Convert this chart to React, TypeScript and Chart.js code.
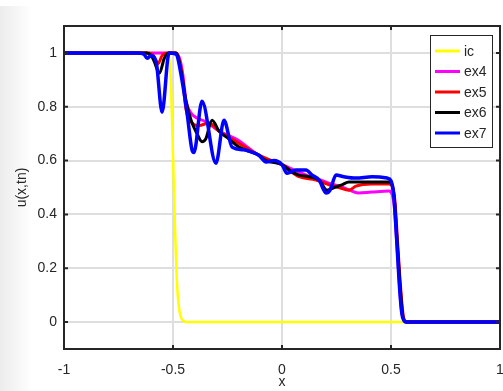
import React, { useEffect, useRef } from "react";
import { Chart, registerables } from "chart.js";
Chart.register(...registerables);

const xTicks = [-1, -0.5, 0, 0.5, 1];
const yTicks = [0, 0.2, 0.4, 0.6, 0.8, 1];
const xTickLabels = ["-1", "-0.5", "0", "0.5", "1"];
const yTickLabels = ["0", "0.2", "0.4", "0.6", "0.8", "1"];
const seriesLabels = ["ic", "ex4", "ex5", "ex6", "ex7"];
const seriesColors = ["#ffff00", "#ff00ff", "#ff0000", "#000000", "#0000ff"];

const icX = [-1, -0.53, -0.518, -0.51, -0.5, -0.49, -0.48, -0.47, -0.46, -0.45, -0.44, 1];
const icY = [1, 1, 0.98, 0.9, 0.62, 0.33, 0.12, 0.04, 0.012, 0.003, 0, 0];

const ex4X = [-1, -0.6, -0.52, -0.49, -0.47, -0.455, -0.44, -0.42, -0.395, -0.35, -0.29, -0.21, -0.106, 0.0, 0.1, 0.17, 0.22, 0.28, 0.31, 0.35, 0.41, 0.49, 0.505, 0.515, 0.53, 0.545, 0.555, 0.57, 1];
const ex4Y = [1, 1, 1, 1, 0.98, 0.92, 0.82, 0.78, 0.76, 0.745, 0.71, 0.68, 0.62, 0.585, 0.55, 0.53, 0.515, 0.5, 0.49, 0.48, 0.483, 0.487, 0.475, 0.43, 0.25, 0.07, 0.015, 0, 0];

const ex5X = [-1, -0.62, -0.59, -0.569, -0.55, -0.52, -0.486, -0.46, -0.44, -0.413, -0.381, -0.335, -0.289, -0.229, -0.106, -0.05, 0.0, 0.03, 0.078, 0.156, 0.216, 0.261, 0.307, 0.339, 0.413, 0.49, 0.505, 0.518, 0.53, 0.545, 0.557, 0.573, 1];
const ex5Y = [1, 1, 0.99, 0.96, 0.99, 1, 1, 0.93, 0.79, 0.74, 0.73, 0.74, 0.71, 0.68, 0.62, 0.6, 0.585, 0.565, 0.54, 0.528, 0.51, 0.5, 0.49, 0.505, 0.513, 0.513, 0.505, 0.45, 0.3, 0.12, 0.02, 0, 0];

const ex6X = [-1, -0.62, -0.6, -0.587, -0.562, -0.54, -0.52, -0.486, -0.46, -0.44, -0.417, -0.39, -0.367, -0.35, -0.321, -0.289, -0.243, -0.197, -0.106, -0.073, 0.0, 0.046, 0.078, 0.124, 0.17, 0.206, 0.239, 0.275, 0.307, 0.4, 0.49, 0.505, 0.516, 0.53, 0.545, 0.555, 0.57, 1];
const ex6Y = [1, 1, 0.99, 0.97, 0.925, 0.98, 1, 1, 0.92, 0.82, 0.75, 0.7, 0.67, 0.68, 0.75, 0.71, 0.68, 0.65, 0.62, 0.6, 0.585, 0.558, 0.546, 0.54, 0.528, 0.49, 0.5, 0.51, 0.52, 0.52, 0.52, 0.51, 0.45, 0.28, 0.1, 0.02, 0, 0];

const ex7X = [-1, -0.661, -0.633, -0.619, -0.601, -0.578, -0.55, -0.518, -0.486, -0.459, -0.436, -0.413, -0.404, -0.367, -0.303, -0.266, -0.229, -0.174, -0.151, -0.106, -0.073, -0.037, 0.0, 0.023, 0.064, 0.11, 0.138, 0.17, 0.202, 0.22, 0.248, 0.284, 0.339, 0.413, 0.482, 0.5, 0.513, 0.525, 0.54, 0.55, 0.56, 0.57, 1];
const ex7Y = [1, 1, 0.995, 0.98, 0.99, 0.97, 0.78, 1, 0.995, 0.9, 0.78, 0.64, 0.63, 0.82, 0.59, 0.75, 0.65, 0.64, 0.635, 0.62, 0.595, 0.6, 0.585, 0.553, 0.565, 0.565, 0.546, 0.528, 0.48, 0.49, 0.546, 0.54, 0.535, 0.54, 0.535, 0.525, 0.47, 0.32, 0.12, 0.03, 0.005, 0, 0];

const seriesX = [icX, ex4X, ex5X, ex6X, ex7X];
const seriesY = [icY, ex4Y, ex5Y, ex6Y, ex7Y];
const seriesWidths = [2.5, 3, 3, 3, 3.5];

const FONT = "'Liberation Sans', Arial, sans-serif";
const AXIS_COLOR = "#262626";

const framePlugin = {
  id: "framePlugin",
  beforeDraw(chart: any) {
    const ctx = chart.ctx;
    ctx.save();
    const g = ctx.createLinearGradient(0, 0, 32, 0);
    g.addColorStop(0, "#ececec");
    g.addColorStop(1, "#ffffff");
    ctx.fillStyle = g;
    ctx.fillRect(0, 6, 32, chart.height - 6);
    ctx.restore();
  },
  afterDraw(chart: any) {
    const ctx = chart.ctx;
    const { left, right, top, bottom } = chart.chartArea;
    const xs = chart.scales.x;
    const ys = chart.scales.y;
    ctx.save();
    ctx.strokeStyle = AXIS_COLOR;
    ctx.lineWidth = 2;
    ctx.strokeRect(left, top, right - left, bottom - top);
    ctx.lineWidth = 2;
    const tl = 4;
    ctx.beginPath();
    xTicks.forEach((v) => {
      const p = xs.getPixelForValue(v);
      ctx.moveTo(p, bottom);
      ctx.lineTo(p, bottom - tl);
      ctx.moveTo(p, top);
      ctx.lineTo(p, top + tl);
    });
    yTicks.forEach((v) => {
      const p = ys.getPixelForValue(v);
      ctx.moveTo(left, p);
      ctx.lineTo(left + tl, p);
      ctx.moveTo(right, p);
      ctx.lineTo(right - tl, p);
    });
    ctx.stroke();

    // legend
    const bx = 430, by = 35, bw = 62, bh = 112;
    ctx.fillStyle = "#ffffff";
    ctx.fillRect(bx, by, bw, bh);
    ctx.strokeStyle = "#262626";
    ctx.lineWidth = 1;
    ctx.strokeRect(bx + 0.5, by + 0.5, bw, bh);
    ctx.font = "14px " + FONT;
    ctx.textBaseline = "middle";
    ctx.textAlign = "left";
    chart.data.datasets.forEach((ds: any, i: number) => {
      const y = 51 + i * 20.5;
      ctx.strokeStyle = ds.borderColor;
      ctx.lineWidth = 3;
      ctx.beginPath();
      ctx.moveTo(435, y);
      ctx.lineTo(460, y);
      ctx.stroke();
      ctx.fillStyle = AXIS_COLOR;
      ctx.fillText(ds.label, 464, y + 1);
    });
    ctx.restore();
  },
};

export default function App() {
  const ref = useRef<HTMLCanvasElement>(null);
  useEffect(() => {
    if (!ref.current) return;
    const datasets = seriesLabels.map((label, i) => ({
      label,
      data: seriesX[i].map((x, j) => ({ x, y: seriesY[i][j] })),
      borderColor: seriesColors[i],
      backgroundColor: seriesColors[i],
      borderWidth: seriesWidths[i],
      pointRadius: 0,
      fill: false,
      cubicInterpolationMode: "monotone" as const,
      order: seriesLabels.length - i,
    }));
    const chart = new Chart(ref.current, {
      type: "line",
      data: { datasets },
      options: {
        animation: false,
        responsive: false,
        devicePixelRatio: 1,
        layout: { padding: { left: 0, right: 3, top: 26, bottom: 0 } },
        plugins: { legend: { display: false }, tooltip: { enabled: false } },
        scales: {
          x: {
            type: "linear",
            min: -1,
            max: 1,
            afterBuildTicks: (s: any) => {
              s.ticks = xTicks.map((v) => ({ value: v }));
            },
            afterFit: (s: any) => {
              s.height = 42;
              s.paddingLeft = 0;
              s.paddingRight = 0;
            },
            ticks: {
              autoSkip: false,
              maxRotation: 0,
              padding: 13,
              color: AXIS_COLOR,
              font: { family: FONT, size: 14 },
              callback: (v: any) => xTickLabels[xTicks.indexOf(Number(v))] ?? String(v),
            },
            grid: { color: "#dedede", lineWidth: 2, drawTicks: false },
            border: { display: false },
            title: {
              display: true,
              text: "x",
              color: AXIS_COLOR,
              font: { family: FONT, size: 14 },
              padding: { top: 0, bottom: 0 },
            },
          },
          y: {
            type: "linear",
            min: -0.1,
            max: 1.1,
            afterBuildTicks: (s: any) => {
              s.ticks = yTicks.map((v) => ({ value: v }));
            },
            afterFit: (s: any) => {
              s.width = 64;
              s.paddingTop = 0;
              s.paddingBottom = 0;
            },
            ticks: {
              autoSkip: false,
              padding: 7,
              color: AXIS_COLOR,
              font: { family: FONT, size: 14 },
              callback: (v: any) => yTickLabels[yTicks.indexOf(Number(v))] ?? String(v),
            },
            grid: { color: "#dedede", lineWidth: 2, drawTicks: false },
            border: { display: false },
            title: {
              display: true,
              text: "u(x,tn)",
              color: AXIS_COLOR,
              font: { family: FONT, size: 14 },
              padding: { top: 14, bottom: 0 },
            },
          },
        },
      },
      plugins: [framePlugin],
    });
    return () => chart.destroy();
  }, []);
  return (
    <div style={{ position: "absolute", left: 0, top: 0, width: 503, height: 391, background: "#ffffff" }}>
      <canvas ref={ref} width={503} height={391} style={{ width: 503, height: 391, display: "block" }} />
    </div>
  );
}
